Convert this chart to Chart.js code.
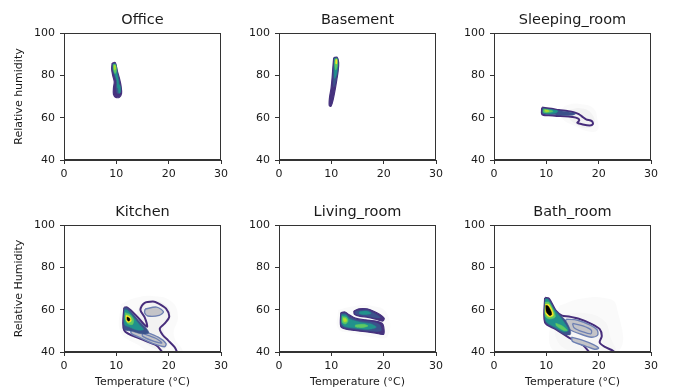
<!DOCTYPE html>
<html><head><meta charset="utf-8">
<script src="https://cdn.jsdelivr.net/npm/chart.js@4.4.0/dist/chart.umd.min.js"></script>
<style>
html,body{margin:0;padding:0;background:#fff;}
#wrap{position:relative;width:673px;height:390px;overflow:hidden;background:#fff;}
canvas{position:absolute;}
</style></head><body>
<div id="wrap"></div>
<script>
// ---------- data (temperature °C, relative humidity %) ----------
const tempTicks = [0, 10, 20, 30];
const humTicks = [40, 60, 80, 100];
const panelTitles = ['Office', 'Basement', 'Sleeping_room', 'Kitchen', 'Living_room', 'Bath_room'];
const yTitles = ['Relative humidity', 'Relative Humidity'];
const xTitle = 'Temperature (°C)';

// Office density contours
const officeOuter = [[9.2,85.8],[9.8,86.0],[10.2,82.0],[10.6,78.5],[10.9,75.0],[11.0,71.5],[10.6,69.7],[9.9,69.6],[9.45,71.0],[9.45,74.0],[9.6,77.0],[9.3,80.0],[9.1,83.0]];
const officeBlue = [[9.3,85.4],[9.85,85.6],[10.2,81.5],[10.55,77.5],[10.7,74.0],[10.5,71.5],[10.15,71.5],[9.95,74.0],[10.0,77.0],[9.6,80.0],[9.3,83.0]];
const officeTeal = [[9.4,85.2],[9.85,85.3],[10.15,81.0],[10.4,77.5],[10.45,74.5],[10.2,74.0],[10.1,77.5],[9.7,80.5],[9.4,83.0]];
const officeTeal2 = [[10.4,76.0],[10.75,75.0],[10.8,72.0],[10.5,71.5],[10.35,73.5]];
const officeGreen = [[9.45,85.0],[9.85,85.0],[10.0,82.0],[9.75,80.8],[9.5,82.5]];
const officeLime = [[9.55,84.6],[9.8,84.6],[9.85,83.0],[9.62,82.6]];

// Basement
const basementOuter = [[10.45,88.3],[11.1,88.6],[11.4,86.0],[11.3,82.0],[11.05,78.0],[10.75,73.5],[10.35,68.5],[9.95,65.4],[9.6,65.8],[9.65,69.5],[9.95,74.0],[10.15,79.0],[10.3,84.0]];
const basementBlue = [[10.55,88.1],[11.1,88.3],[11.3,85.0],[11.15,81.0],[10.8,76.5],[10.45,74.5],[10.35,79.0],[10.45,84.0]];
const basementTeal = [[10.6,87.9],[11.1,88.0],[11.2,84.5],[11.0,80.5],[10.65,78.5],[10.55,83.0]];
const basementGreen = [[10.7,87.7],[11.1,87.8],[11.15,84.5],[10.85,82.5],[10.65,85.0]];
const basementLime = [[10.85,87.4],[11.05,87.4],[11.05,85.5],[10.85,85.5]];

// Sleeping room
const sleepGrey1 = [[12.5,63.5],[14.0,66.0],[16.5,66.5],[19.0,64.5],[19.8,59.0],[19.8,54.0],[18.0,53.5],[15.5,56.0],[13.0,59.5]];
const sleepGrey2 = [[14.0,63.5],[16.5,64.5],[18.5,62.5],[19.2,57.0],[17.5,55.0],[15.0,58.0],[14.0,61.0]];
const sleepOuter = [[9.2,64.8],[11.0,64.2],[12.4,63.6],[14.0,63.1],[15.2,62.6],[16.2,61.7],[16.9,60.4],[17.6,59.2],[18.7,58.4],[18.9,57.0],[18.3,56.3],[16.8,56.9],[15.9,57.6],[16.3,58.7],[16.0,59.7],[15.0,60.3],[13.5,60.7],[12.0,60.8],[10.5,61.1],[9.2,61.6]];
const sleepBlue = [[9.3,64.5],[11.0,63.9],[12.5,63.3],[14.5,62.6],[15.6,61.9],[14.8,61.1],[12.5,61.2],[10.5,61.5],[9.3,62.0]];
const sleepTeal = [[9.4,64.2],[10.8,63.8],[12.2,63.2],[11.8,62.2],[10.4,61.9],[9.4,62.3]];
const sleepGreen = [[9.5,64.0],[10.6,63.6],[11.3,63.0],[10.4,62.4],[9.5,62.6]];
const sleepLime = [[9.7,63.7],[10.3,63.5],[10.5,63.0],[9.9,62.8]];

// Kitchen
const kitchenGrey1 = [[10.8,62.5],[13.5,65.5],[17.0,66.5],[20.5,64.0],[21.8,57.0],[21.0,48.0],[22.8,40.0],[22.0,38.0],[18.0,38.0],[14.0,43.5],[10.8,49.5]];
const kitchenGrey2 = [[14.5,62.5],[17.0,64.5],[19.8,61.5],[20.3,56.0],[19.0,51.0],[20.0,44.0],[18.5,41.0],[15.0,45.0],[13.0,50.0]];
const kitchenOuter = [[11.5,61.0],[12.1,61.0],[13.8,57.2],[15.4,52.8],[15.9,52.0],[15.4,56.5],[14.6,59.9],[15.3,63.0],[17.0,63.8],[18.0,63.0],[19.5,60.5],[20.1,56.6],[19.2,53.4],[18.3,51.0],[18.9,47.9],[19.9,45.5],[21.1,42.4],[21.6,40.0],[21.8,38.5],[19.5,38.5],[17.6,43.2],[14.5,46.3],[11.5,50.3]];
const kitchenLobe = [[15.5,60.3],[17.7,61.2],[19.0,59.0],[18.2,57.3],[16.0,57.0],[15.4,58.5]];
const kitchenBand = [[13.0,51.5],[15.5,49.5],[18.0,47.0],[19.5,44.0],[19.2,42.5],[17.0,44.0],[14.5,46.8],[12.8,49.0]];
const kitchenBandInner = [[15.0,48.8],[17.5,46.5],[18.7,44.3],[17.2,45.0],[15.0,47.5]];
const kitchenBlue = [[11.5,60.8],[12.1,60.8],[13.3,57.8],[14.6,54.0],[15.8,51.0],[16.2,49.0],[14.8,48.6],[13.0,49.8],[11.5,50.8]];
const kitchenTeal = [[11.6,60.0],[12.2,59.6],[13.2,56.6],[14.3,53.2],[15.2,50.6],[14.0,50.4],[12.5,51.8],[11.6,53.0]];
const kitchenGreen = [[11.7,58.6],[12.6,57.7],[13.3,55.2],[13.1,53.0],[12.2,53.4],[11.7,55.5]];
const kitchenYellow = [[11.85,57.4],[12.6,56.7],[12.85,54.6],[12.2,54.0],[11.85,55.5]];
const kitchenPeak = [[12.05,56.5],[12.5,56.0],[12.6,55.0],[12.3,54.6],[12.05,55.4]];

// Living room
const livingGrey1 = [[11.3,60.0],[14.0,61.5],[17.5,62.0],[20.6,58.5],[20.8,47.5],[18.0,47.0],[14.0,49.0],[11.3,51.0]];
const livingUpperOuter = [[14.3,59.4],[15.3,60.4],[16.8,60.4],[18.0,59.4],[19.3,57.7],[20.1,56.0],[19.8,54.6],[18.5,55.5],[17.0,56.4],[15.5,56.8],[14.4,57.8]];
const livingUpperBlue = [[14.6,59.2],[16.8,59.9],[18.0,58.6],[19.4,56.3],[18.3,56.2],[16.5,57.1],[14.6,58.0]];
const livingUpperTeal = [[15.4,59.0],[16.8,59.3],[17.6,58.3],[16.6,57.7],[15.4,58.1]];
const livingLowerOuter = [[11.8,58.6],[12.6,58.9],[13.4,57.6],[14.6,56.0],[16.5,55.2],[18.5,54.6],[19.7,53.6],[20.0,52.0],[20.0,48.4],[18.5,48.9],[16.5,49.6],[14.5,50.2],[12.8,50.8],[11.8,52.0]];
const livingLowerBlue = [[11.9,58.2],[12.7,58.3],[13.6,56.5],[15.0,55.1],[17.5,54.3],[19.2,53.0],[19.5,50.0],[17.5,49.9],[15.0,50.6],[12.8,51.3],[11.9,52.5]];
const livingLowerTeal = [[12.0,57.6],[12.8,57.5],[13.5,55.6],[15.5,54.1],[17.5,53.3],[18.6,51.7],[17.0,50.7],[14.5,51.3],[12.6,52.0],[12.0,53.5]];
const livingLowerGreen1 = [[12.1,56.8],[12.9,56.4],[13.2,54.6],[12.7,53.2],[12.1,54.0]];
const livingLowerGreen2 = [[14.6,52.8],[16.2,53.1],[17.0,52.3],[15.8,51.5],[14.6,51.9]];
const livingLowerLime = [[12.3,56.0],[12.8,55.7],[12.9,54.5],[12.4,54.4]];

// Bath room
const bathGrey1 = [[12.5,62.0],[16.5,65.2],[21.5,65.4],[23.4,62.0],[23.6,40.0],[12.0,40.0],[10.5,48.0]];
const bathGrey2 = [[13.0,57.5],[17.0,58.5],[21.0,55.0],[22.3,47.0],[23.0,40.0],[14.0,41.0],[11.5,50.0]];
const bathOuter = [[9.75,65.6],[10.5,65.2],[11.8,59.5],[13.0,57.2],[14.3,56.8],[16.2,55.7],[18.7,53.2],[20.2,50.8],[20.6,47.6],[20.2,44.5],[21.2,42.4],[22.8,40.5],[23.3,38.5],[19.0,38.5],[17.0,43.2],[14.3,46.8],[11.8,50.8],[9.75,54.0]];
const bathLobe = [[13.8,55.5],[16.0,55.0],[18.5,52.6],[19.7,50.5],[19.8,48.0],[18.6,47.0],[16.5,48.5],[14.5,50.5],[13.5,53.0]];
const bathLobeInner = [[15.0,53.5],[17.0,52.3],[18.6,50.3],[18.5,48.6],[17.0,49.5],[15.3,51.5]];
const bathLower = [[14.8,47.0],[17.0,45.5],[19.0,43.5],[20.0,41.8],[19.2,41.3],[17.5,42.8],[15.0,45.0]];
const bathBlue = [[9.75,65.4],[10.45,65.1],[11.6,60.4],[12.8,57.2],[13.7,54.8],[14.5,51.0],[14.6,48.3],[13.5,48.3],[11.8,50.9],[9.8,54.3]];
const bathTeal = [[9.8,65.0],[10.35,64.8],[11.3,60.5],[12.5,57.0],[13.4,54.0],[14.2,50.2],[13.3,49.6],[11.6,51.8],[9.9,54.8]];
const bathGreen1 = [[9.8,63.6],[10.5,63.5],[11.4,59.5],[11.7,56.5],[10.5,55.6],[9.8,57.0]];
const bathGreen2 = [[11.8,53.6],[13.0,52.4],[14.0,50.2],[13.3,50.2],[11.9,52.4]];
const bathYellow = [[9.85,62.6],[10.5,62.4],[11.2,59.2],[11.3,57.2],[10.5,56.6],[9.85,58.3]];
const bathPeak = [[9.9,62.0],[10.3,61.8],[10.9,59.2],[11.0,57.6],[10.6,57.3],[10.0,59.0]];

// ---------- styles ----------
const styles = {
  line:     {fill: null, border: '#472d7b', width: 2},
  purple:   {fill: '#46327e', border: '#46327e', width: 1.2},
  blue:     {fill: '#3b528b', border: '#3b528b', width: 0.5},
  teal:     {fill: '#21918c', border: '#21918c', width: 0.5},
  green:    {fill: '#5ec962', border: '#5ec962', width: 0.5},
  lime:     {fill: '#b5de2b', border: '#b5de2b', width: 0.5},
  yellow:   {fill: '#fde725', border: '#fde725', width: 0.5},
  black:    {fill: '#000000', border: '#000000', width: 0.5},
  grey:     {fill: 'rgba(0,0,0,0.035)', border: 'rgba(0,0,0,0)', width: 0},
  faint:    {fill: 'rgba(0,0,0,0.02)', border: 'rgba(0,0,0,0)', width: 0},
  greyfill: {fill: '#c4c4c8', border: '#6d80b3', width: 1.4},
  greyline: {fill: null, border: '#6d80b3', width: 1.3}
};

const panels = [
  {row: 0, col: 0, layers: [['purple', officeOuter], ['blue', officeBlue], ['teal', officeTeal], ['teal', officeTeal2], ['green', officeGreen], ['lime', officeLime]]},
  {row: 0, col: 1, layers: [['purple', basementOuter], ['blue', basementBlue], ['teal', basementTeal], ['green', basementGreen], ['yellow', basementLime]]},
  {row: 0, col: 2, layers: [['faint', sleepGrey1], ['grey', sleepGrey2], ['line', sleepOuter], ['blue', sleepBlue], ['teal', sleepTeal], ['green', sleepGreen], ['lime', sleepLime]]},
  {row: 1, col: 0, layers: [['faint', kitchenGrey1], ['grey', kitchenGrey2], ['line', kitchenOuter], ['greyfill', kitchenLobe], ['greyfill', kitchenBand], ['greyline', kitchenBandInner], ['blue', kitchenBlue], ['teal', kitchenTeal], ['green', kitchenGreen], ['yellow', kitchenYellow], ['black', kitchenPeak]]},
  {row: 1, col: 1, layers: [['faint', livingGrey1], ['purple', livingUpperOuter], ['blue', livingUpperBlue], ['teal', livingUpperTeal], ['purple', livingLowerOuter], ['blue', livingLowerBlue], ['teal', livingLowerTeal], ['green', livingLowerGreen1], ['green', livingLowerGreen2], ['lime', livingLowerLime]]},
  {row: 1, col: 2, layers: [['faint', bathGrey1], ['faint', bathGrey2], ['line', bathOuter], ['greyfill', bathLobe], ['greyline', bathLobeInner], ['greyfill', bathLower], ['blue', bathBlue], ['teal', bathTeal], ['green', bathGreen1], ['green', bathGreen2], ['yellow', bathYellow], ['black', bathPeak]]}
];

// ---------- layout ----------
const plotLefts = [64, 279, 494];
const plotTops = [33, 225];
const plotW = 158, plotH = 127;
const yAxisW = 60, rightPad = 10, topSpace = 33;
const bottomSpace = [25, 38];
const FONT = "'DejaVu Sans', 'Liberation Sans', sans-serif";
const TXT = '#1a1a1a';
const AX = '#333';

const frame = {
  id: 'frame',
  afterDatasetsDraw(chart) {
    const a = chart.chartArea, ctx = chart.ctx;
    ctx.save();
    ctx.strokeStyle = AX; ctx.lineWidth = 1;
    ctx.strokeRect(Math.round(a.left) + 0.5, Math.round(a.top) + 0.5, Math.round(a.right - a.left) - 1, Math.round(a.bottom - a.top) - 1);
    ctx.restore();
  }
};

const wrap = document.getElementById('wrap');
panels.forEach((p, idx) => {
  const cw = yAxisW + plotW + rightPad;
  const ch = topSpace + plotH + bottomSpace[p.row];
  const cv = document.createElement('canvas');
  cv.width = cw; cv.height = ch;
  cv.style.left = (plotLefts[p.col] - yAxisW) + 'px';
  cv.style.top = (plotTops[p.row] - topSpace) + 'px';
  cv.style.width = cw + 'px'; cv.style.height = ch + 'px';
  wrap.appendChild(cv);

  const datasets = p.layers.map(([st, poly], i) => {
    const s = styles[st];
    const pts = poly.map(([x, y]) => ({x, y}));
    pts.push({x: poly[0][0], y: poly[0][1]});
    return {
      data: pts,
      showLine: true,
      pointRadius: 0,
      pointHoverRadius: 0,
      borderColor: s.border,
      borderWidth: s.width,
      backgroundColor: s.fill || 'rgba(0,0,0,0)',
      fill: s.fill ? 'shape' : false,
      tension: (st === 'grey' || st === 'faint') ? 0.45 : 0.3,
      order: -i
    };
  });

  new Chart(cv, {
    type: 'scatter',
    data: {datasets},
    options: {
      responsive: false,
      animation: false,
      devicePixelRatio: 1,
      layout: {padding: {left: 0, right: rightPad, top: 0, bottom: 0}},
      plugins: {
        legend: {display: false},
        tooltip: {enabled: false},
        title: {
          display: true, text: panelTitles[idx], fullSize: false,
          color: TXT, font: {family: FONT, size: 14.5, weight: 'normal', lineHeight: 1.2},
          padding: {top: 11.3, bottom: 4.3}
        }
      },
      scales: {
        x: {
          type: 'linear', min: tempTicks[0], max: tempTicks[tempTicks.length - 1],
          afterBuildTicks: s => { s.ticks = tempTicks.map(v => ({value: v})); },
          afterFit: s => { s.height = bottomSpace[p.row]; },
          ticks: {color: TXT, font: {family: FONT, size: 11}, padding: 4, maxRotation: 0, autoSkip: false},
          grid: {display: true, drawOnChartArea: false, drawTicks: true, tickLength: 4, color: AX},
          border: {display: true, color: AX},
          title: {display: p.row === 1, text: xTitle, color: TXT, font: {family: FONT, size: 11}, padding: {top: 0, bottom: 1}}
        },
        y: {
          type: 'linear', min: humTicks[0], max: humTicks[humTicks.length - 1],
          afterBuildTicks: s => { s.ticks = humTicks.map(v => ({value: v})); },
          afterFit: s => { s.width = yAxisW; },
          ticks: {color: TXT, font: {family: FONT, size: 11}, padding: 5},
          grid: {display: true, drawOnChartArea: false, drawTicks: true, tickLength: 4, color: AX},
          border: {display: true, color: AX},
          title: {display: p.col === 0, text: yTitles[p.row], color: TXT, font: {family: FONT, size: 11}, padding: {top: 8.4, bottom: 0}}
        }
      }
    },
    plugins: [frame]
  });
});
</script>
</body></html>
